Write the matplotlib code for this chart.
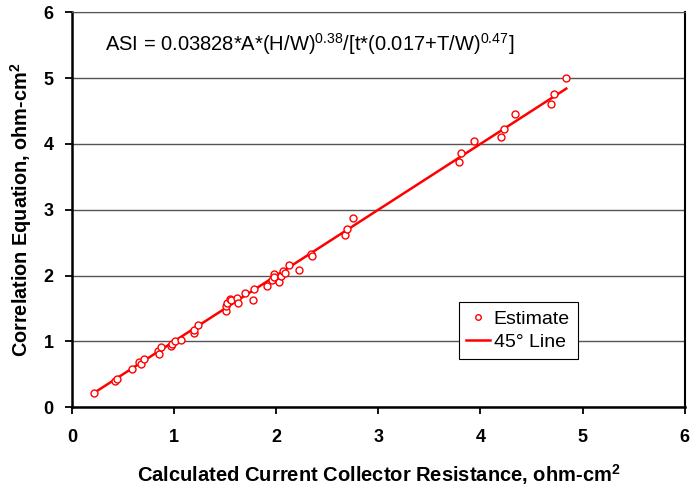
import numpy as np
import matplotlib
matplotlib.use("Agg")
import matplotlib.pyplot as plt

plt.rcParams["font.family"] = ["Liberation Sans", "DejaVu Sans"]
plt.rcParams["mathtext.fontset"] = "custom"
plt.rcParams["mathtext.rm"] = "Liberation Sans"
plt.rcParams["mathtext.bf"] = "Liberation Sans:bold"

# calculated resistance vs. correlation estimate (ohm-cm^2)
calc = [0.22, 0.42, 0.44, 0.59, 0.66, 0.68, 0.71, 0.84, 0.85, 0.87,
        0.97, 0.98, 1.01, 1.07, 1.20, 1.20, 1.23, 1.51, 1.51, 1.52,
        1.55, 1.56, 1.62, 1.63, 1.69, 1.77, 1.78, 1.91, 1.96, 1.98,
        1.98, 2.03, 2.05, 2.07, 2.09, 2.13, 2.22, 2.34, 2.35, 2.67,
        2.69, 2.75, 3.79, 3.81, 3.94, 4.20, 4.23, 4.34, 4.69, 4.72, 4.84]
corr = [0.21, 0.40, 0.43, 0.58, 0.69, 0.65, 0.73, 0.85, 0.81, 0.91,
        0.93, 0.96, 1.00, 1.02, 1.13, 1.18, 1.25, 1.46, 1.54, 1.58,
        1.64, 1.63, 1.66, 1.59, 1.73, 1.63, 1.80, 1.84, 1.93, 2.02,
        1.98, 1.90, 2.00, 2.07, 2.04, 2.16, 2.09, 2.33, 2.29, 2.62,
        2.71, 2.87, 3.73, 3.86, 4.04, 4.10, 4.23, 4.45, 4.60, 4.76, 5.00]
line_x = [min(calc), max(calc)]

fig = plt.figure(figsize=(6.91, 4.90), dpi=100)
ax = fig.add_axes([0.104, 0.169, 0.887, 0.806])

ax.plot(line_x, line_x, color="red", lw=1.8, label="45° Line", zorder=2)
ax.plot(calc, corr, "o", mfc="white", mec="red", ms=5, mew=1.0,
        label="Estimate", zorder=3)

ax.set_xlim(0, 6)
ax.set_ylim(0, 6)
ax.set_xticks(range(7))
ax.set_yticks(range(7))
ax.yaxis.grid(True, color="#555555", lw=1.0)
ax.set_axisbelow(True)
for s in ["left", "bottom", "right"]:
    ax.spines[s].set_color("black")
ax.spines["left"].set_linewidth(1.8)
ax.spines["bottom"].set_linewidth(1.8)
ax.spines["right"].set_linewidth(1.5)
ax.spines["top"].set_color("#555555")
ax.tick_params(direction="out", length=5, width=1.3, labelsize=13)
ax.tick_params(axis="x", pad=11)
ax.tick_params(axis="y", pad=8)
for lb in ax.get_xticklabels() + ax.get_yticklabels():
    lb.set_fontweight("bold")

ax.set_xlabel(r"Calculated Current Collector Resistance, ohm-cm$^{\mathbf{2}}$",
              fontsize=14.5, fontweight="bold", labelpad=11)
ax.set_ylabel(r"Correlation Equation, ohm-cm$^{\mathbf{2}}$",
              fontsize=14.3, fontweight="bold", labelpad=7)

ax.text(0.054, 0.92,
        r"ASI = 0.03828*A*(H/W)$^{0.38}$/[t*(0.017+T/W)$^{0.47}$]",
        transform=ax.transAxes, fontsize=14.5, va="center", ha="left")

h, l = ax.get_legend_handles_labels()
leg = ax.legend(h[::-1], l[::-1], loc="upper left",
                bbox_to_anchor=(0.631, 0.266), fontsize=14, frameon=True,
                fancybox=False, edgecolor="black", framealpha=1,
                handlelength=1.2, handletextpad=0.2, borderpad=0.4,
                labelspacing=0.3, borderaxespad=0)
leg.get_frame().set_linewidth(0.8)
leg.legend_handles[0].set_markersize(4)

fig.savefig("out.png", dpi=100)
